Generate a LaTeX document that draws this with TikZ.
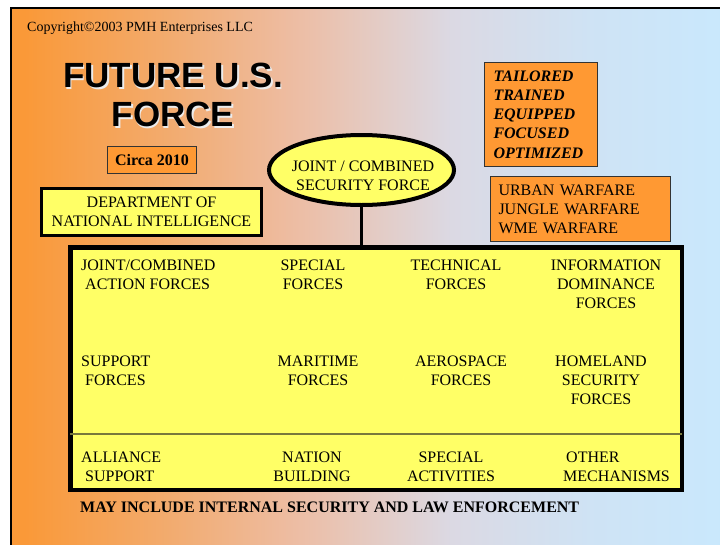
\documentclass[tikz,border=0pt]{standalone}
\usepackage{fontspec}
\setmainfont{Liberation Serif}
\newfontfamily\headfont{Liberation Sans}
\usepackage{tikz}
\usetikzlibrary{shapes.geometric}

\definecolor{slideorange}{RGB}{255,153,51}
\definecolor{slideyellow}{RGB}{255,255,102}
\definecolor{dividerolive}{RGB}{120,120,60}
\pgfdeclarehorizontalshading{slidebg}{100bp}{rgb(0bp)=(0.98,0.60,0.22); rgb(26bp)=(0.98,0.60,0.22); rgb(36bp)=(0.95,0.67,0.43); rgb(45bp)=(0.93,0.74,0.64); rgb(56bp)=(0.86,0.85,0.89); rgb(66bp)=(0.81,0.89,0.96); rgb(75bp)=(0.79,0.91,0.99); rgb(100bp)=(0.79,0.91,0.99)}

\begin{document}
\begin{tikzpicture}[x=1pt, y=-1pt,
	bodytext/.style={inner sep=0pt, font=\fontsize{16}{19}\selectfont},
	cell/.style={bodytext, anchor=north, align=center},
	titletext/.style={inner sep=0pt, anchor=north, align=center, font=\headfont\bfseries\fontsize{35}{39}\selectfont},
	orangebox/.style={draw=black!80, line width=1.2pt, fill=slideorange, inner ysep=0pt, font=\fontsize{16}{19}\selectfont},
	yellowbox/.style={draw=black, fill=slideyellow, inner sep=0pt}]
				\useasboundingbox (0,0) rectangle (720,544);
				\shade[shading=slidebg] (10.5,7.8) rectangle (720,544);
				\draw[line width=2pt] (730,7.8) -- (10.5,7.8) -- (10.5,554);

				\node[bodytext, anchor=north west, font=\fontsize{14}{16}\selectfont] (node0) at (27,22) {Copyright\textcopyright2003 PMH Enterprises LLC};
				\node[titletext, text=white!85!gray] (node1) at (174.5,64.5) {FUTURE U.S.\\FORCE};
				\node[titletext] (node2) at (173,63) {FUTURE U.S.\\FORCE};
				\node[orangebox, minimum width=88.8pt, minimum height=26.8pt, font=\bfseries\fontsize{16}{19}\selectfont] (node3) at (152,160) {Circa 2010};
				\node[yellowbox, line width=3pt, minimum width=220pt, minimum height=47pt, align=center, font=\fontsize{16}{19}\selectfont] (node4) at (151.5,212) {DEPARTMENT OF\\NATIONAL INTELLIGENCE};

				\node[yellowbox, ellipse, line width=4pt, minimum width=185pt, minimum height=70pt] (node5) at (361.5,170) {};
				\node[cell] (node6) at (363,161) {JOINT / COMBINED\\SECURITY FORCE};
				\node[orangebox, text width=95pt, inner xsep=9pt, minimum height=104pt, align=left, font=\bfseries\itshape\fontsize{16}{19.25}\selectfont] (node7) at (541,114.5) {TAILORED\\TRAINED\\EQUIPPED\\FOCUSED\\OPTIMIZED};
				\node[orangebox, text width=164pt, inner xsep=8pt, minimum height=65pt, align=left] (node8) at (580.5,209) {URBAN WARFARE\\JUNGLE WARFARE\\WME WARFARE};

				\node[yellowbox, line width=4.5pt, minimum width=611.5pt, minimum height=242.5pt] (node9) at (376,368.5) {};
				\draw[line width=3pt] (node5.south) -- (node5.south |- node9.north);
				\draw[line width=1.5pt, dividerolive, shorten <=2.25pt, shorten >=2.25pt] (node9.west |- 0,434) -- (node9.east |- 0,434);

				\node[bodytext, anchor=north west, align=left] (node10) at (81,259.5) {JOINT/COMBINED\\\hspace*{4pt}ACTION FORCES};
				\node[cell] (node11) at (313,259.5) {SPECIAL\\FORCES};
				\node[cell] (node12) at (456,259.5) {TECHNICAL\\FORCES};
				\node[cell] (node13) at (606,259.5) {INFORMATION\\DOMINANCE\\FORCES};
				\node[bodytext, anchor=north west, align=left] (node14) at (81,355.5) {SUPPORT\\\hspace*{4pt}FORCES};
				\node[cell] (node15) at (318,355.5) {MARITIME\\FORCES};
				\node[cell] (node16) at (461,355.5) {AEROSPACE\\FORCES};
				\node[cell] (node17) at (601,355.5) {HOMELAND\\SECURITY\\FORCES};
				\node[bodytext, anchor=north west, align=left] (node18) at (81,451.5) {ALLIANCE\\\hspace*{4pt}SUPPORT};
				\node[cell] (node19) at (312,451.5) {NATION\\BUILDING};
				\node[cell] (node20) at (451,451.5) {SPECIAL\\ACTIVITIES};
				\node[bodytext, anchor=north west, align=left] (node21) at (563,451.5) {\hspace*{3pt}OTHER\\MECHANISMS};

				\node[bodytext, anchor=north west, font=\bfseries\fontsize{16}{19}\selectfont] (node22) at (80,502) {MAY INCLUDE INTERNAL SECURITY AND LAW ENFORCEMENT};
			\end{tikzpicture}
\end{document}
